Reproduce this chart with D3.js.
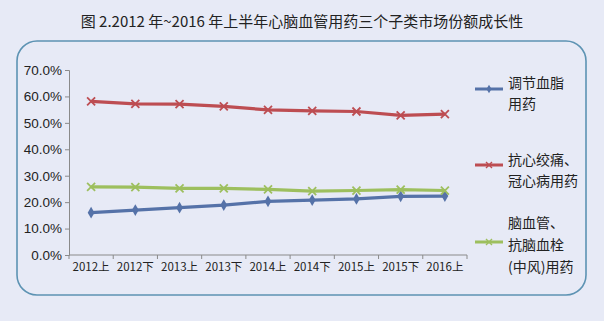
<!DOCTYPE html>
<html>
<head>
<meta charset="utf-8">
<script src="https://cdn.jsdelivr.net/npm/d3@7"></script>
<style>
  html, body { margin: 0; padding: 0; background: #e7eaf6; }
  svg { display: block; }
</style>
</head>
<body>
<svg id="chart" width="604" height="321"></svg>
<script>
const categories = ["2012上", "2012下", "2013上", "2013下", "2014上", "2014下", "2015上", "2015下", "2016上"];
const lipidValues = [16.0, 17.0, 17.9, 18.9, 20.3, 20.8, 21.2, 22.2, 22.3];
const anginaValues = [58.1, 57.2, 57.1, 56.2, 54.9, 54.5, 54.3, 52.8, 53.3];
const strokeValues = [25.8, 25.7, 25.2, 25.2, 24.8, 24.2, 24.4, 24.7, 24.4];
const yTicks = [0, 10, 20, 30, 40, 50, 60, 70];

const series = [
  { name: ["调节血脂", "用药"], values: lipidValues, color: "#5572a8", marker: "diamond" },
  { name: ["抗心绞痛、", "冠心病用药"], values: anginaValues, color: "#bd4d52", marker: "x" },
  { name: ["脑血管、", "抗脑血栓", "(中风)用药"], values: strokeValues, color: "#9dbf5e", marker: "x" }
];

const svg = d3.select("#chart");
const cjk = "'Noto Sans CJK SC', 'Noto Sans', sans-serif";

// title
svg.append("text")
  .attr("x", 302).attr("y", 27)
  .attr("text-anchor", "middle")
  .style("font-family", cjk)
  .style("font-size", "15px")
  .attr("fill", "#222")
  .text("图 2.2012 年~2016 年上半年心脑血管用药三个子类市场份额成长性");

// rounded frame
svg.append("rect")
  .attr("x", 17).attr("y", 41)
  .attr("width", 569).attr("height", 254)
  .attr("rx", 20).attr("ry", 20)
  .attr("fill", "#e7eaf6")
  .attr("stroke", "#5d93b3")
  .attr("stroke-width", 1.6);

const x = d3.scaleBand().domain(categories).range([69, 467]);
const y = d3.scaleLinear().domain([0, 70]).range([255, 70]);

const g = svg.append("g");

// y axis
const yAxis = d3.axisLeft(y).tickValues(yTicks).tickSize(4).tickFormat(d => d.toFixed(1) + "%");
const ya = g.append("g").attr("transform", "translate(69,0)").call(yAxis);
ya.select(".domain").attr("stroke", "#8a8a8a");
ya.selectAll(".tick line").attr("stroke", "#8a8a8a");
ya.selectAll(".tick text")
  .attr("x", -7)
  .style("font-family", "'Liberation Sans', Arial, sans-serif")
  .style("font-size", "13.5px")
  .attr("fill", "#222");

// x axis, ticks at band edges
const xa = g.append("g").attr("transform", "translate(0,255)");
xa.append("line").attr("x1", 69).attr("x2", 467).attr("stroke", "#8a8a8a");
const edges = categories.map(c => x(c)).concat([x.range()[1]]);
xa.selectAll("line.edge").data(edges).enter().append("line")
  .attr("class", "edge")
  .attr("x1", d => d).attr("x2", d => d)
  .attr("y1", 0).attr("y2", 4)
  .attr("stroke", "#8a8a8a");
xa.selectAll("text").data(categories).enter().append("text")
  .attr("x", d => x(d) + x.bandwidth() / 2)
  .attr("y", 16)
  .attr("text-anchor", "middle")
  .style("font-family", "'Liberation Sans Narrow', " + cjk)
  .style("font-size", "11.5px")
  .attr("fill", "#222")
  .text(d => d);

// lines
const line = d3.line()
  .x((d, i) => x(categories[i]) + x.bandwidth() / 2)
  .y(d => y(d));

function drawMarker(sel, type, color) {
  if (type === "diamond") {
    sel.append("path")
      .attr("d", d3.symbol().type(d3.symbolDiamond).size(40))
      .attr("fill", color);
  } else {
    sel.append("path")
      .attr("d", "M-4,-4L4,4M-4,4L4,-4")
      .attr("stroke", color)
      .attr("stroke-width", 1.8)
      .attr("fill", "none");
  }
}

series.forEach(s => {
  g.append("path")
    .datum(s.values)
    .attr("d", line)
    .attr("fill", "none")
    .attr("stroke", s.color)
    .attr("stroke-width", 3.2);
  g.selectAll(null).data(s.values).enter().append("g")
    .attr("transform", (d, i) => `translate(${x(categories[i]) + x.bandwidth() / 2},${y(d)})`)
    .each(function() { drawMarker(d3.select(this), s.marker, s.color); });
});

// legend
const legendY = [89, 165, 242];
const textStart = [[83, 104], [160, 181], [223, 245, 267]];
series.forEach((s, k) => {
  const lg = svg.append("g");
  lg.append("line")
    .attr("x1", 475).attr("x2", 503)
    .attr("y1", legendY[k]).attr("y2", legendY[k])
    .attr("stroke", s.color).attr("stroke-width", 3);
  const m = lg.append("g").attr("transform", `translate(489,${legendY[k]})`);
  if (s.marker === "diamond") {
    m.append("path").attr("d", d3.symbol().type(d3.symbolDiamond).size(22)).attr("fill", s.color);
  } else {
    m.append("path").attr("d", "M-3,-3L3,3M-3,3L3,-3").attr("stroke", s.color).attr("stroke-width", 1.4);
  }
  s.name.forEach((t, j) => {
    lg.append("text")
      .attr("x", 508).attr("y", textStart[k][j])
      .attr("dy", "0.35em")
      .style("font-family", cjk)
      .style("font-size", "14px")
      .attr("fill", "#222")
      .text(t);
  });
});
</script>
</body>
</html>
